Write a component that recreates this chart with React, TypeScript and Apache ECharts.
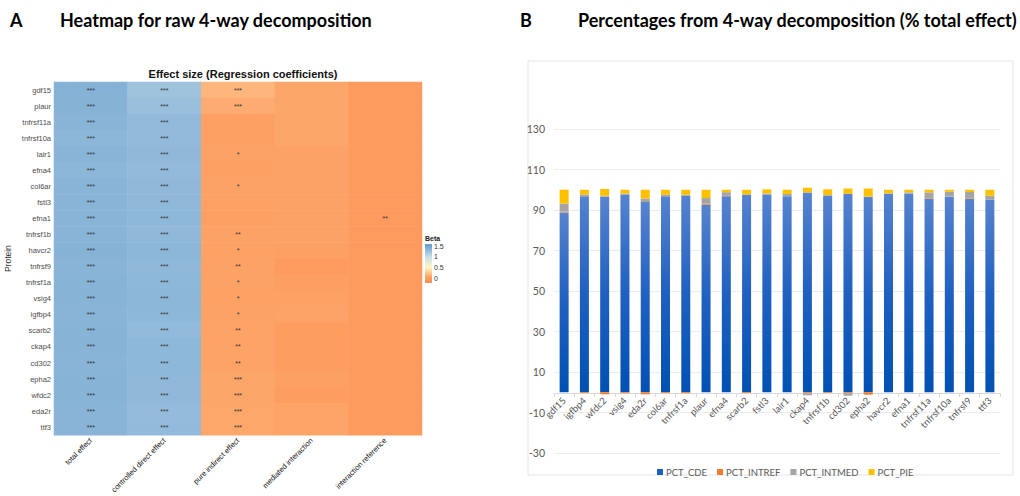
import React, { useEffect, useRef } from 'react';
import * as echarts from 'echarts';

// ---------- Panel A: heatmap data ----------
const proteins = ['gdf15', 'plaur', 'tnfrsf11a', 'tnfrsf10a', 'lair1', 'efna4', 'col6ar', 'fstl3', 'efna1', 'tnfrsf1b', 'havcr2', 'tnfrsf9', 'tnfrsf1a', 'vsig4', 'igfbp4', 'scarb2', 'ckap4', 'cd302', 'epha2', 'wfdc2', 'eda2r', 'ttf3'];
const effects = ['total effect', 'controlled direct effect', 'pure indirect effect', 'mediated interaction', 'interaction reference'];

const totalEffect = [1.37, 1.37, 1.35, 1.33, 1.35, 1.33, 1.35, 1.35, 1.35, 1.35, 1.37, 1.35, 1.36, 1.36, 1.35, 1.36, 1.36, 1.35, 1.36, 1.36, 1.35, 1.35];
const controlledDirect = [1.22, 1.26, 1.30, 1.30, 1.31, 1.30, 1.31, 1.31, 1.32, 1.31, 1.33, 1.31, 1.32, 1.33, 1.32, 1.30, 1.32, 1.32, 1.31, 1.31, 1.29, 1.30];
const pureIndirect = [0.15, 0.09, 0.03, 0.03, 0.04, 0.03, 0.04, 0.035, 0.03, 0.04, 0.035, 0.04, 0.04, 0.035, 0.04, 0.045, 0.045, 0.045, 0.06, 0.06, 0.065, 0.065];
const mediatedInteraction = [0.06, 0.06, 0.06, 0.06, 0.04, 0.04, 0.04, 0.04, 0.04, 0.04, 0.03, -0.02, 0.02, 0.035, 0.045, 0.01, 0.01, 0.01, 0.03, 0.01, 0.05, 0.05];
const interactionReference = [-0.02, -0.02, -0.02, -0.02, -0.02, -0.02, -0.015, -0.015, -0.015, -0.01, -0.01, 0, 0, 0, 0, 0, 0, 0, 0, 0, 0, 0];

const sigTotal = ['***', '***', '***', '***', '***', '***', '***', '***', '***', '***', '***', '***', '***', '***', '***', '***', '***', '***', '***', '***', '***', '***'];
const sigControlled = ['***', '***', '***', '***', '***', '***', '***', '***', '***', '***', '***', '***', '***', '***', '***', '***', '***', '***', '***', '***', '***', '***'];
const sigPure = ['***', '***', '', '', '*', '', '*', '', '', '**', '*', '**', '*', '*', '*', '**', '**', '**', '***', '***', '***', '***'];
const sigMediated = ['', '', '', '', '', '', '', '', '', '', '', '', '', '', '', '', '', '', '', '', '', ''];
const sigReference = ['', '', '', '', '', '', '', '', '**', '', '', '', '', '', '', '', '', '', '', '', '', ''];

const betaTicks = [1.5, 1, 0.5, 0];

// ---------- Panel B: stacked percentages ----------
const barProteins = ['gdf15', 'igfbp4', 'wfdc2', 'vsig4', 'eda2r', 'col6ar', 'tnfrsf1a', 'plaur', 'efna4', 'scarb2', 'fstl3', 'lair1', 'ckap4', 'tnfrsf1b', 'cd302', 'epha2', 'havcr2', 'efna1', 'tnfrsf11a', 'tnfrsf10a', 'tnfrsf9', 'ttf3'];
const pctCDE = [88.8, 96.8, 96.6, 97.6, 93.9, 96.8, 97.2, 92.6, 96.8, 97.5, 97.7, 96.8, 98.7, 97.2, 98.0, 96.4, 98.0, 98.2, 95.6, 96.6, 95.6, 95.2];
const pctINTREF = [0.4, -0.4, -1.0, -0.5, -1.0, -0.4, -0.5, 0.5, 0.2, -0.4, 0, 0, -0.5, -0.3, -0.5, -1.2, 0, 0, 0.3, 0, 0.3, 0];
const pctINTMED = [4.0, 0.8, 0.4, 0.5, 1.8, 0.7, 0.3, 2.8, 1.8, 0.2, 0.5, 1.1, -1.0, 0.2, -1.2, 0.2, 0.2, 0.5, 2.8, 2.4, 3.0, 1.8];
const pctPIE = [6.8, 2.4, 3.4, 1.9, 4.3, 2.5, 2.5, 4.1, 1.2, 2.3, 2.0, 2.1, 2.3, 2.8, 2.6, 4.0, 1.8, 1.3, 1.3, 1.0, 1.1, 3.0];
const yTicks = [-30, -10, 10, 30, 50, 70, 90, 110, 130];

const heatColumns = [totalEffect, controlledDirect, pureIndirect, mediatedInteraction, interactionReference];
const sigColumns = [sigTotal, sigControlled, sigPure, sigMediated, sigReference];

export default function App() {
  const ref = useRef<HTMLDivElement>(null);

  useEffect(() => {
    document.body.style.margin = '0';
    if (!ref.current) return;
    const chart = echarts.init(ref.current, undefined, { renderer: 'svg' });

    const heatData: any[] = [];
    heatColumns.forEach((col, xi) => {
      col.forEach((v, yi) => heatData.push([xi, yi, v]));
    });

    const heatFont = 'Liberation Sans, Arial, sans-serif';
    const bFont = 'Lato, sans-serif';

    // legend colorbar geometry
    const barTop = 244;
    const barH = 39;
    const zeroY = 278;
    const perUnit = 21.3;

    const option: any = {
      animation: false,
      backgroundColor: '#ffffff',
      title: [
        {
          text: 'Effect size (Regression coefficients)',
          left: 238,
          top: 63,
          textAlign: 'center',
          textStyle: { fontFamily: heatFont, fontSize: 11, fontWeight: 'bold', color: '#111' },
        },
      ],
      grid: [
        { left: 54, top: 82, width: 368, height: 354 },
        { left: 554, top: 129, width: 446, height: 324 },
      ],
      visualMap: {
        type: 'continuous',
        show: false,
        seriesIndex: 0,
        min: -0.5,
        max: 1.5,
        inRange: { color: ['#f7834e', '#fd9b5e', '#fff6c4', '#c6dde8', '#6fa3d0'] },
      },
      legend: {
        left: 652,
        top: 462,
        itemWidth: 6,
        itemHeight: 6,
        itemGap: 10,
        icon: 'rect',
        textStyle: { fontFamily: bFont, fontSize: 9.5, color: '#595959', padding: [0, 0, 0, -2] },
        data: [
          { name: 'PCT_CDE', itemStyle: { color: '#1f5fbf' } },
          { name: 'PCT_INTREF', itemStyle: { color: '#ed7d31' } },
          { name: 'PCT_INTMED', itemStyle: { color: '#a5a5a5' } },
          { name: 'PCT_PIE', itemStyle: { color: '#ffc000' } },
        ],
      },
      xAxis: [
        {
          type: 'category',
          gridIndex: 0,
          data: effects,
          axisLine: { show: false },
          axisTick: { show: false },
          splitLine: { show: false },
          axisLabel: { rotate: 45, interval: 0, fontSize: 7.5, color: '#111', margin: 4, fontFamily: heatFont },
        },
        {
          type: 'category',
          gridIndex: 1,
          data: barProteins,
          offset: -60,
          axisLine: { onZero: false, lineStyle: { color: '#d9d9d9' } },
          axisTick: { show: true, length: 4, lineStyle: { color: '#d9d9d9' } },
          axisLabel: { rotate: 45, interval: 0, fontSize: 9.5, color: '#595959', margin: 6, fontFamily: bFont, align: 'right', verticalAlign: 'middle' },
        },
      ],
      yAxis: [
        {
          type: 'category',
          gridIndex: 0,
          data: proteins,
          inverse: true,
          axisLine: { show: false },
          axisTick: { show: false },
          axisLabel: { fontSize: 7.5, color: '#4d4d4d', margin: 3, fontFamily: heatFont },
          name: 'Protein',
          nameLocation: 'middle',
          nameGap: 42,
          nameTextStyle: { fontSize: 8.5, color: '#333', fontFamily: heatFont },
        },
        {
          type: 'value',
          gridIndex: 1,
          min: -30,
          max: 130,
          axisLine: { show: false },
          axisTick: { show: false, customValues: yTicks },
          axisLabel: { customValues: yTicks, fontSize: 10.5, color: '#595959', margin: 9, fontFamily: bFont },
          splitLine: { show: true, lineStyle: { color: '#ececec', width: 1 } },
        },
      ],
      series: [
        {
          type: 'heatmap',
          xAxisIndex: 0,
          yAxisIndex: 0,
          data: heatData,
          itemStyle: { borderWidth: 0 },
          label: {
            show: true,
            fontSize: 7,
            color: '#333',
            fontFamily: heatFont,
            formatter: (p: any) => sigColumns[p.value[0]][p.value[1]] || '',
          },
          emphasis: { disabled: true },
        },
        {
          name: 'PCT_CDE',
          type: 'bar',
          xAxisIndex: 1,
          yAxisIndex: 1,
          stack: 'pct',
          barWidth: 9,
          data: pctCDE,
          itemStyle: {
            color: new echarts.graphic.LinearGradient(0, 0, 0, 1, [
              { offset: 0, color: '#5683cf' },
              { offset: 0.5, color: '#1f60c0' },
              { offset: 1, color: '#0051b3' },
            ]),
          },
        },
        {
          name: 'PCT_INTREF',
          type: 'bar',
          xAxisIndex: 1,
          yAxisIndex: 1,
          stack: 'pct',
          barWidth: 9,
          data: pctINTREF,
          itemStyle: { color: '#ed7d31' },
        },
        {
          name: 'PCT_INTMED',
          type: 'bar',
          xAxisIndex: 1,
          yAxisIndex: 1,
          stack: 'pct',
          barWidth: 9,
          data: pctINTMED,
          itemStyle: { color: '#a5a5a5' },
        },
        {
          name: 'PCT_PIE',
          type: 'bar',
          xAxisIndex: 1,
          yAxisIndex: 1,
          stack: 'pct',
          barWidth: 9,
          data: pctPIE,
          itemStyle: { color: '#ffc000' },
        },
      ],
      graphic: [
        { type: 'text', x: 10, y: 20, style: { text: 'A', font: 'bold 18px Lato, sans-serif', fill: '#000', verticalAlign: 'middle' } },
        { type: 'text', x: 60, y: 20, style: { text: 'Heatmap for raw 4-way decomposition', font: 'bold 18px Lato, sans-serif', fill: '#000', verticalAlign: 'middle' } },
        { type: 'text', x: 520, y: 20, style: { text: 'B', font: 'bold 18px Lato, sans-serif', fill: '#000', verticalAlign: 'middle' } },
        { type: 'text', x: 578, y: 20, style: { text: 'Percentages from 4-way decomposition (% total effect)', font: 'bold 18px Lato, sans-serif', fill: '#000', verticalAlign: 'middle' } },
        { type: 'rect', shape: { x: 528, y: 61, width: 485, height: 414 }, style: { fill: 'none', stroke: '#e3e3e3', lineWidth: 1 }, z: -1 },
        { type: 'text', x: 425, y: 238, style: { text: 'Beta', font: 'bold 7px Liberation Sans, Arial, sans-serif', fill: '#222', verticalAlign: 'middle' } },
        {
          type: 'rect',
          shape: { x: 425, y: barTop, width: 7, height: barH },
          style: {
            fill: new echarts.graphic.LinearGradient(0, 0, 0, 1, [
              { offset: 0, color: '#6a9fce' },
              { offset: (zeroY - 1.5 * perUnit - barTop) / barH, color: '#6fa3d0' },
              { offset: (zeroY - 1 * perUnit - barTop) / barH, color: '#c6dde8' },
              { offset: (zeroY - 0.5 * perUnit - barTop) / barH, color: '#fff6c4' },
              { offset: (zeroY - barTop) / barH, color: '#fd9b5e' },
              { offset: 1, color: '#fa9056' },
            ]),
          },
        },
        ...betaTicks.map((t) => ({
          type: 'text',
          x: 434,
          y: zeroY - t * perUnit,
          style: { text: String(t), font: '7px Liberation Sans, Arial, sans-serif', fill: '#333', verticalAlign: 'middle' },
        })),
      ],
    };

    chart.setOption(option);
    return () => chart.dispose();
  }, []);

  return <div ref={ref} style={{ width: 1020, height: 496 }} />;
}
